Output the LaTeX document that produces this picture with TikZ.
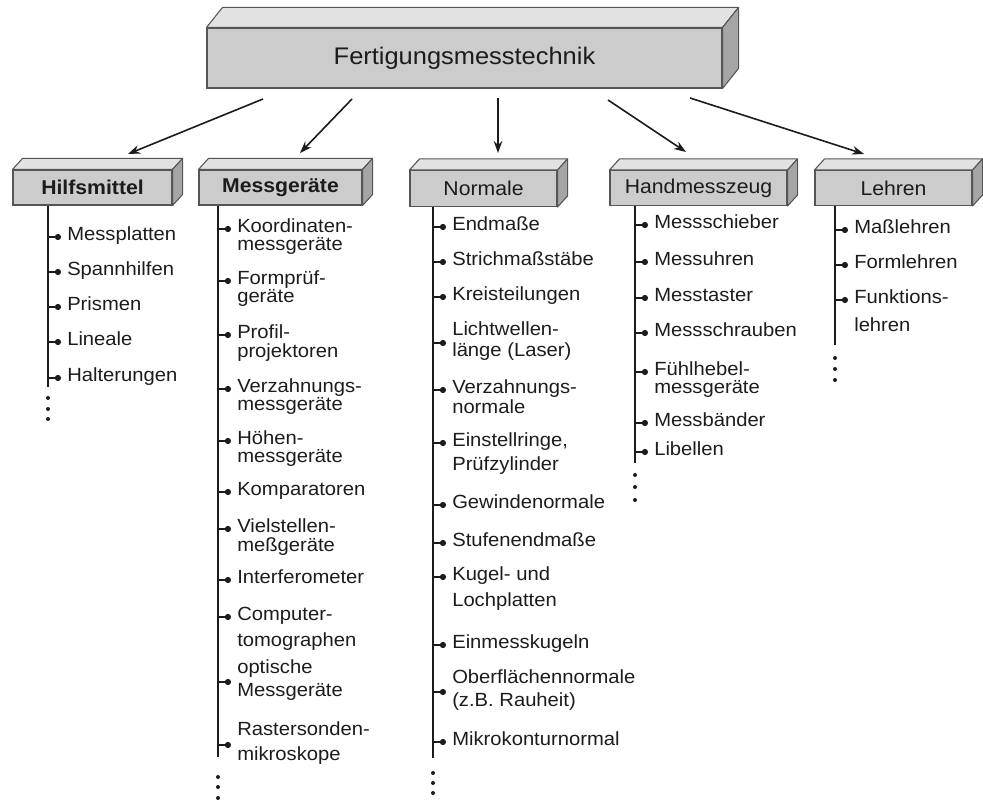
\documentclass[tikz,border=0pt]{standalone}
\usepackage{fontspec}
\setmainfont{Liberation Sans}[FakeStretch=1.06]
\usepackage{tikz}
\usetikzlibrary{arrows.meta,calc}

\definecolor{boxfront}{RGB}{204,204,204}
\definecolor{boxtop}{RGB}{226,226,226}
\definecolor{boxside}{RGB}{165,165,165}
\definecolor{boxline}{RGB}{85,85,85}
\definecolor{ink}{RGB}{28,28,28}

\newcommand{\zeilen}[2][t]{\begin{tabular}[#1]{@{}l@{}}#2\end{tabular}}

\tikzset{
  kasten/.style={draw=boxline, line width=0.8pt, fill=boxfront, inner sep=0pt, text=ink, font=\fontsize{15}{18}\selectfont},
  deckel/.style={draw=boxline, line width=0.8pt, fill=boxtop, line join=round},
  seite/.style={draw=boxline, line width=0.8pt, fill=boxside, line join=round},
  pfeil/.style={draw=ink, line width=1.2pt, -{Stealth[length=9pt,width=6.5pt]}},
  stamm/.style={draw=ink, line width=1.1pt},
  zweig/.style={draw=ink, line width=0.9pt, shorten >=4.5pt, -{Circle[length=4.6pt,width=4.6pt]}},
  eintrag/.style={anchor=mid west, inner sep=0pt, text=ink, font=\fontsize{14.3}{13}\selectfont},
}

\begin{document}
\begin{tikzpicture}[x=0.75pt,y=0.75pt,yscale=-1,xscale=1]
            \useasboundingbox (0,0) rectangle (983,802);

            % Hauptkasten
            \node[kasten, minimum width=386.25pt, minimum height=45pt, font=\fontsize{18}{22}\selectfont] (fmt) at (464.5,58) {Fertigungsmesstechnik};
            \draw[deckel] (fmt.north west) -- ++(16,-20) -- ($(fmt.north east)+(16,-20)$) -- (fmt.north east) -- cycle;
            \draw[seite] (fmt.north east) -- ++(16,-20) -- ($(fmt.south east)+(16,-20)$) -- (fmt.south east) -- cycle;

            % Gruppen
            \node[kasten, minimum width=119.25pt, minimum height=26.25pt, font=\fontsize{15}{18}\selectfont\bfseries] (hilf) at (92.5,187.5) {Hilfsmittel};
            \node[kasten, minimum width=122.25pt, minimum height=26.25pt, font=\fontsize{15}{18}\selectfont\bfseries] (mess) at (280.5,187.5) {Messgeräte};
            \node[kasten, minimum width=110.25pt, minimum height=27pt] (norm) at (483.5,188.5) {Normale};
            \node[kasten, minimum width=132.75pt, minimum height=26.25pt] (hand) at (698.5,188) {Handmesszeug};
            \node[kasten, minimum width=117.75pt, minimum height=26.25pt] (lehr) at (893.5,188) {Lehren};
            \foreach \k in {hilf,mess,norm,hand,lehr} {
              \draw[deckel] (\k.north west) -- ++(10,-11) -- ($(\k.north east)+(10,-11)$) -- (\k.north east) -- cycle;
              \draw[seite] (\k.north east) -- ++(10,-11) -- ($(\k.south east)+(10,-11)$) -- (\k.south east) -- cycle;
            }

            % Pfeile
            \coordinate (ab1) at (263,99);  \coordinate (an1) at (128,154);
            \coordinate (ab2) at (352,99);  \coordinate (an2) at (300,153);
            \coordinate (ab3) at (498,98);  \coordinate (an3) at (498,153);
            \coordinate (ab4) at (608,100); \coordinate (an4) at (686,152);
            \coordinate (ab5) at (690,98);  \coordinate (an5) at (864,154);
            \foreach \i in {1,...,5} \draw[pfeil] (ab\i) -- (an\i);

            % Hilfsmittel
            \coordinate (hilf-fuss) at (48,387);
            \draw[stamm] (hilf.south -| hilf-fuss) -- (hilf-fuss);
            \node[eintrag] (hm1) at (67,237) {Messplatten};
            \node[eintrag] (hm2) at (67,272) {Spannhilfen};
            \node[eintrag] (hm3) at (67,307) {Prismen};
            \node[eintrag] (hm4) at (67,342) {Lineale};
            \node[eintrag] (hm5) at (67,378) {Halterungen};
            \foreach \i in {1,...,5} \draw[zweig] (hm\i.mid west -| hilf-fuss) -- (hm\i.mid west);
            \foreach \y in {398,409,419} \fill[ink] (48,\y) circle (2);

            % Messgeraete
            \coordinate (mess-fuss) at (218,757);
            \draw[stamm] (mess.south -| mess-fuss) -- (mess-fuss);
            \node[eintrag] (mg1) at (237,229) {\zeilen{Koordinaten-\\messgeräte}};
            \node[eintrag] (mg2) at (237,281) {\zeilen{Formprüf-\\geräte}};
            \node[eintrag] (mg3) at (237,335) {\zeilen{Profil-\\projektoren}};
            \node[eintrag] (mg4) at (237,389) {\zeilen{Verzahnungs-\\messgeräte}};
            \node[eintrag] (mg5) at (237,441) {\zeilen{Höhen-\\messgeräte}};
            \node[eintrag] (mg6) at (237,492) {Komparatoren};
            \node[eintrag] (mg7) at (237,529) {\zeilen{Vielstellen-\\meßgeräte}};
            \node[eintrag] (mg8) at (237,580) {Interferometer};
            \node[eintrag] (mg9) at (237,617) {\zeilen{Computer-\\[5pt]tomographen}};
            \node[eintrag] (mg10) at (237,682) {\zeilen[c]{optische\\[4pt]Messgeräte}};
            \node[eintrag] (mg11) at (237,745) {\zeilen[c]{Rastersonden-\\[4pt]mikroskope}};
            \foreach \i in {1,...,11} \draw[zweig] (mg\i.mid west -| mess-fuss) -- (mg\i.mid west);
            \foreach \y in {777,787,798} \fill[ink] (218,\y) circle (2);

            % Normale
            \coordinate (norm-fuss) at (433,758);
            \draw[stamm] (norm.south -| norm-fuss) -- (norm-fuss);
            \node[eintrag] (nm1) at (452,227) {Endmaße};
            \node[eintrag] (nm2) at (452,262) {Strichmaßstäbe};
            \node[eintrag] (nm3) at (452,297) {Kreisteilungen};
            \node[eintrag] (nm4) at (452,343) {\zeilen[c]{Lichtwellen-\\[2pt]länge (Laser)}};
            \node[eintrag] (nm5) at (452,390) {\zeilen{Verzahnungs-\\[1pt]normale}};
            \node[eintrag] (nm6) at (452,443) {\zeilen{Einstellringe,\\[3.5pt]Prüfzylinder}};
            \node[eintrag] (nm7) at (452,505) {Gewindenormale};
            \node[eintrag] (nm8) at (452,543) {Stufenendmaße};
            \node[eintrag] (nm9) at (452,577) {\zeilen{Kugel- und\\[5.5pt]Lochplatten}};
            \node[eintrag] (nm10) at (452,645) {Einmesskugeln};
            \node[eintrag] (nm11) at (452,692) {\zeilen[c]{Oberflächennormale\\[3pt](z.B. Rauheit)}};
            \node[eintrag] (nm12) at (452,742) {Mikrokonturnormal};
            \foreach \i in {1,...,12} \draw[zweig] (nm\i.mid west -| norm-fuss) -- (nm\i.mid west);
            \foreach \y in {773,783,793} \fill[ink] (433,\y) circle (2);

            % Handmesszeug
            \coordinate (hand-fuss) at (635,463);
            \draw[stamm] (hand.south -| hand-fuss) -- (hand-fuss);
            \node[eintrag] (hz1) at (654,225) {Messschieber};
            \node[eintrag] (hz2) at (654,262) {Messuhren};
            \node[eintrag] (hz3) at (654,298) {Messtaster};
            \node[eintrag] (hz4) at (654,333) {Messschrauben};
            \node[eintrag] (hz5) at (654,372) {\zeilen{Fühlhebel-\\messgeräte}};
            \node[eintrag] (hz6) at (654,423) {Messbänder};
            \node[eintrag] (hz7) at (654,452) {Libellen};
            \foreach \i in {1,...,7} \draw[zweig] (hz\i.mid west -| hand-fuss) -- (hz\i.mid west);
            \foreach \y in {475,487,500} \fill[ink] (635,\y) circle (2);

            % Lehren
            \coordinate (lehr-fuss) at (835,345);
            \draw[stamm] (lehr.south -| lehr-fuss) -- (lehr-fuss);
            \node[eintrag] (lh1) at (854,230) {Maßlehren};
            \node[eintrag] (lh2) at (854,265) {Formlehren};
            \node[eintrag] (lh3) at (854,300) {\zeilen{Funktions-\\[7pt]lehren}};
            \foreach \i in {1,...,3} \draw[zweig] (lh\i.mid west -| lehr-fuss) -- (lh\i.mid west);
            \foreach \y in {358,369,380} \fill[ink] (835,\y) circle (2);
        \end{tikzpicture}
\end{document}
